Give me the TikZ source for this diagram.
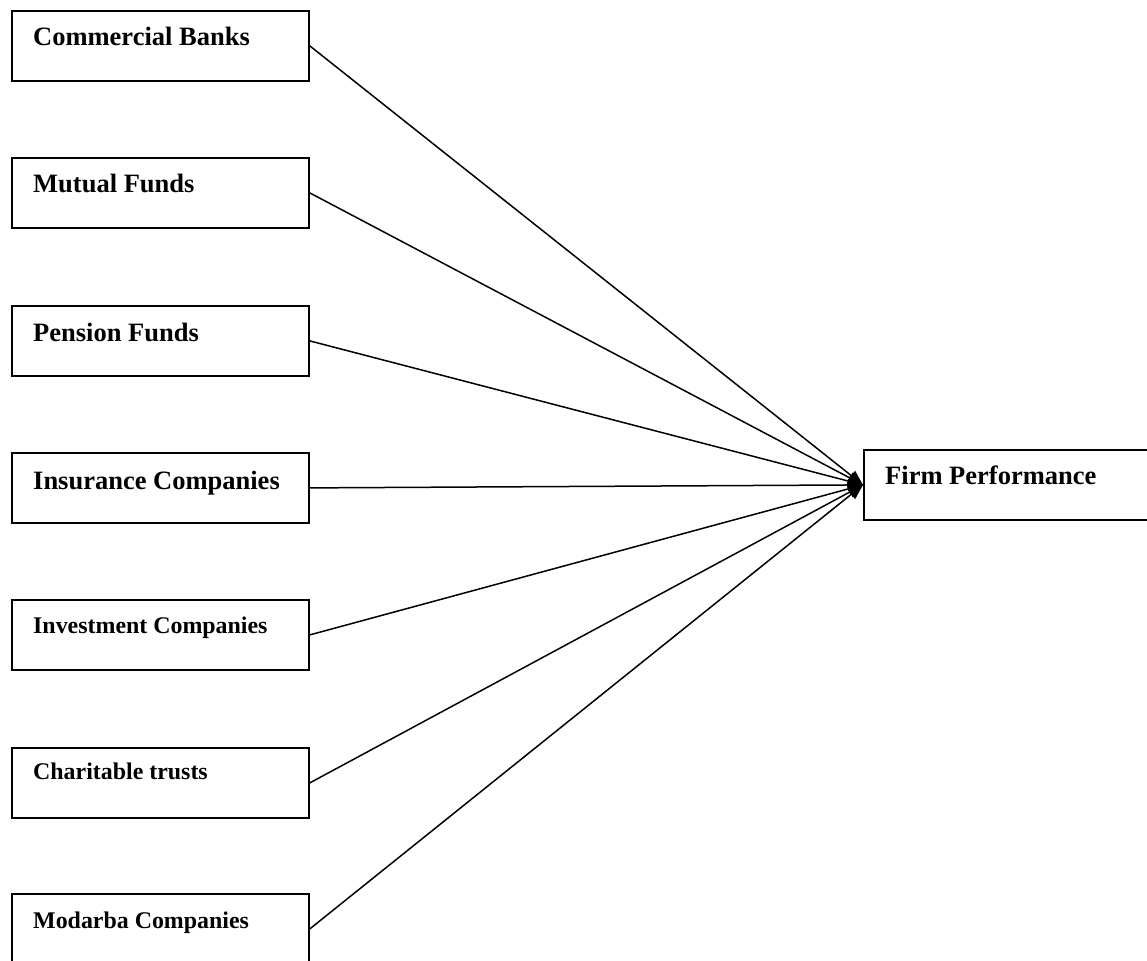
\documentclass[tikz,border=0pt]{standalone}
\usepackage{fontspec}
\setmainfont{Liberation Serif}
\usetikzlibrary{arrows.meta}
\begin{document}
\begin{tikzpicture}[x=1pt,y=-1pt,
  box/.style={draw,line width=1.8pt,minimum width=297pt,minimum height=70pt,anchor=north west,inner sep=0pt},
  big/.style={font=\bfseries\fontsize{26.5}{30}\selectfont,anchor=base west,inner sep=0pt},
  small/.style={font=\bfseries\fontsize{23.9}{28}\selectfont,anchor=base west,inner sep=0pt},
  link/.style={line width=1.5pt,-{Triangle[length=15pt,width=12pt]}}]
\clip (0,0) rectangle (1147,960);
\fill[white] (0,0) rectangle (1147,960);
\node[box] (cb) at (11,10) {};
\node[big] (cbt) at (33,46) {Commercial Banks};
\node[box] (mf) at (11,157) {};
\node[big] (mft) at (33,193) {Mutual Funds};
\node[box] (pf) at (11,305) {};
\node[big] (pft) at (33,341) {Pension Funds};
\node[box] (ic) at (11,452) {};
\node[big] (ict) at (33,489) {Insurance Companies};
\node[box] (iv) at (11,599) {};
\node[small] (ivt) at (33,633) {Investment Companies};
\node[box] (ct) at (11,747) {};
\node[small] (ctt) at (33,779) {Charitable trusts};
\node[box] (mc) at (11,893) {};
\node[small] (mct) at (33,928) {Modarba Companies};
\node[box,minimum width=292pt] (fp) at (863,449) {};
\node[big] (fpt) at (885,484) {Firm Performance};
\foreach \n in {cb,mf,pf,ic,iv,ct,mc}
  \draw[link] (\n.east) -- (fp.west);
\end{tikzpicture}
\end{document}
